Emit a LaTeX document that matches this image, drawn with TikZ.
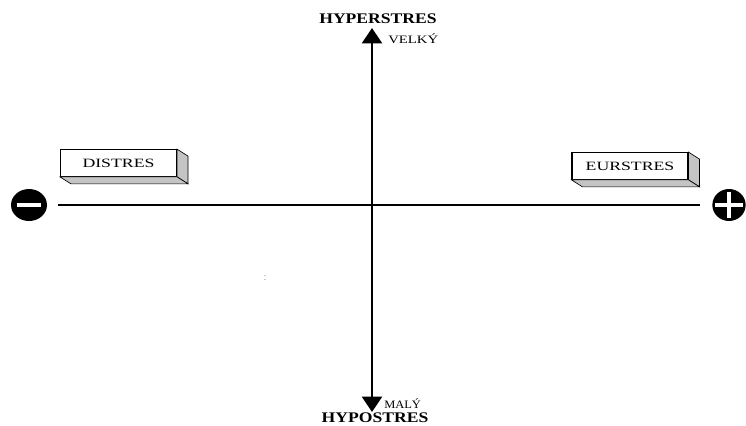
\documentclass[tikz,border=0pt]{standalone}
\usepackage{fontspec}
\setmainfont{Liberation Serif}
\usetikzlibrary{arrows.meta,positioning,calc,shapes.geometric}
\definecolor{pside}{HTML}{C4C4C4}
\definecolor{pdots}{HTML}{9A9A9A}
\tikzset{
  % one unit = one pixel of the reference, y runs downwards
  axis/.style     = {black, line width=1.5pt},
  axisarr/.style  = {axis, -{Triangle[width=15pt,length=11.5pt]}},
  stressbox/.style= {rectangle, draw=black, fill=white, line width=0.8pt,
                     minimum width=87pt, minimum height=20pt, inner sep=0pt,
                     font=\fontsize{9.5}{10}\selectfont},
  face/.style     = {fill=pside, draw=black, line width=0.5pt},
  sign/.style     = {ellipse, fill=black, inner sep=0pt,
                     minimum width=27pt, minimum height=24pt},
  bar/.style      = {white, line width=2.4pt},
  pole/.style     = {font=\fontsize{11}{12}\selectfont\bfseries, inner sep=0pt},
  tag/.style      = {font=\fontsize{8.5}{9}\selectfont, inner sep=0pt},
}
\newcommand{\stretched}[2]{\scalebox{#1}[1]{#2}}
\newcommand{\depth}[1]{%
  \filldraw[face] (#1.north east) -- ++(11,7) -- ($(#1.south east)+(11,7)$)
    -- (#1.south east) -- cycle;
  \filldraw[face] (#1.south west) -- ++(11,7) -- ($(#1.south east)+(11,7)$)
    -- (#1.south east) -- cycle;}

\begin{document}
\begin{tikzpicture}[x=0.75pt,y=-0.75pt]
\useasboundingbox (0,0) rectangle (746,425);
\clip (0,0) rectangle (746,425);
% axes
\coordinate (top) at (372,28);
\coordinate (bot) at (372,412);
\node[sign] (minus) at (29,205) {};
\node[sign, minimum width=25pt] (plus) at (729,205) {};
\coordinate (left) at (58,205);
\coordinate (right) at (700,205);
\draw[axis, line width=1.2pt] (left) -- (right);
\draw[axisarr] (372,205) -- (top);
\draw[axisarr] (372,205) -- (bot);
% signs
\draw[bar] ($(minus.west)+(6,0)$) -- ($(minus.east)+(-6,0)$);
\draw[bar] ($(plus.west)+(3,0)$) -- ($(plus.east)+(-3,0)$);
\draw[bar] ($(plus.north)+(0,3)$) -- ($(plus.south)+(0,-3)$);
% boxes
\node[stressbox] (distres) at (118.5,163) {\stretched{1.4}{DISTRES}};
\depth{distres}
\node[stressbox] (eustres) at (630,166) {\stretched{1.4}{EURSTRES}};
\depth{eustres}
% labels
\node[pole] (hyper) at (378,19) {\stretched{1.2}{HYPERSTRES}};
\node[tag, anchor=west] (velky) at (388,39) {\stretched{1.3}{VELKÝ}};
\node[tag, anchor=west] (maly) at (384,404) {\stretched{1.1}{MALÝ}};
\node[pole, anchor=base] (hypo) at (375,422.5) {\stretched{1.2}{HYPOSTRES}};
\node[text=pdots, font=\fontsize{8}{8}\selectfont, inner sep=0pt] (dots) at (265,278) {:};
\end{tikzpicture}
\end{document}
